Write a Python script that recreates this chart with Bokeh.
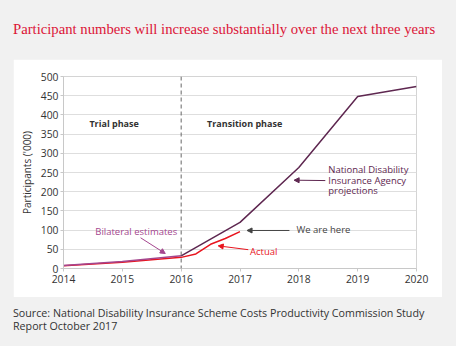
from bokeh.plotting import figure
from bokeh.models import Range1d, Span, Arrow, NormalHead, Div, FixedTicker
from bokeh.layouts import column
from bokeh.core.properties import value
from bokeh.embed import file_html
from bokeh.resources import INLINE

title_text = "Participant numbers will increase substantially over the next three years"
source_line1 = "Source: National Disability Insurance Scheme Costs Productivity Commission Study"
source_line2 = "Report October 2017"

# Series
years_bilateral = [2014, 2015, 2016]
bilateral = [8, 18, 33]
years_ndia = [2016, 2017, 2018, 2019, 2020]
ndia = [33, 120, 263, 448, 474]
years_actual = [2014, 2015, 2016, 2016.25, 2016.5, 2016.75, 2017]
actual = [7, 16, 29, 38, 63, 78, 96]

x_ticks = [2014, 2015, 2016, 2017, 2018, 2019, 2020]
y_ticks = [0, 50, 100, 150, 200, 250, 300, 350, 400, 450, 500]

PLUM = "#5e2750"
MAGENTA = "#a4468e"
RED = "#e8141e"
GREY_TXT = "#333333"
FONT = "Open Sans"
BG = "#f1f1f1"

p = figure(width=429, height=238, x_range=Range1d(2014, 2020), y_range=Range1d(0, 500),
           output_backend="svg", toolbar_location=None,
           min_border_left=50, min_border_right=26, min_border_top=17, min_border_bottom=29,
           background_fill_color="white", border_fill_color="white",
           outline_line_color="#d4d4d4", margin=(0, 14, 0, 13))

p.xgrid.visible = False
p.ygrid.grid_line_color = "#dedede"
p.ygrid.grid_line_width = 1
p.xaxis.ticker = FixedTicker(ticks=x_ticks)
p.yaxis.ticker = FixedTicker(ticks=y_ticks)
for ax in (p.xaxis[0], p.yaxis[0]):
    ax.axis_line_color = "#c8c8c8"
    ax.major_tick_line_color = "#c8c8c8"
    ax.major_tick_out = 3
    ax.major_tick_in = 0
    ax.minor_tick_line_color = None
    ax.major_label_text_font = FONT
    ax.major_label_text_font_size = "10.3px"
    ax.major_label_text_color = GREY_TXT
p.xaxis.major_label_standoff = 3
p.yaxis.major_label_standoff = 2
p.yaxis.axis_label = "Participants ('000)"
p.yaxis.axis_label_text_font = FONT
p.yaxis.axis_label_text_font_size = "10px"
p.yaxis.axis_label_text_font_style = "normal"
p.yaxis.axis_label_text_color = GREY_TXT
p.yaxis.axis_label_standoff = 4

p.add_layout(Span(location=2016, dimension="height", line_color="#666666",
                  line_dash="4 3", line_width=1))

p.line(years_actual, actual, line_color=RED, line_width=1.5)
p.line(years_bilateral, bilateral, line_color=MAGENTA, line_width=1.5)
p.line(years_ndia, ndia, line_color=PLUM, line_width=1.5)

def txt(x, y, t, color, bold=False, align="left", size="9.5px"):
    p.text(x=[x], y=[y], text=[t], text_font=value(FONT), text_font_size=size,
           text_color=color, text_align=align, text_baseline="middle",
           text_font_style="bold" if bold else "normal")

txt(2014.86, 378, "Trial phase", GREY_TXT, bold=True, align="center", size="9px")
txt(2016.44, 378, "Transition phase", GREY_TXT, bold=True, size="9px")
txt(2014.54, 97, "Bilateral estimates", MAGENTA)
txt(2017.96, 101, "We are here", "#444444")
txt(2017.17, 44, "Actual", RED)
txt(2018.5, 257, "National Disability", PLUM)
txt(2018.5, 230, "Insurance Agency", PLUM)
txt(2018.5, 203, "projections", PLUM)

def arrow(x0, y0, x1, y1, color):
    p.add_layout(Arrow(end=NormalHead(size=5, fill_color=color, line_color=color),
                       x_start=x0, y_start=y0, x_end=x1, y_end=y1,
                       line_color=color, line_width=1))

arrow(2015.31, 80, 2015.73, 39, MAGENTA)
arrow(2017.84, 99, 2017.12, 99, "#444444")
arrow(2017.14, 49, 2016.63, 59, RED)
arrow(2018.45, 229, 2017.92, 230, PLUM)

title_div = Div(text=f'<div style="padding-top:21px;font-family:\'Liberation Serif\';font-size:14.7px;line-height:17px;color:#dc1437;white-space:nowrap;">{title_text}</div>',
                width=443, height=59, margin=(0, 0, 0, 13), styles={"background-color": BG})
source_div = Div(text=f'<div style="padding-top:10px;font-family:\'Open Sans\';font-size:10.7px;line-height:12.7px;color:#333;white-space:nowrap;">{source_line1}<br>{source_line2}</div>',
                 width=443, height=49, margin=(0, 0, 0, 13), styles={"background-color": BG})

layout = column(title_div, p, source_div, width=456, height=346, spacing=0,
                styles={"background-color": BG})

open("out.html", "w").write(file_html(layout, INLINE))
